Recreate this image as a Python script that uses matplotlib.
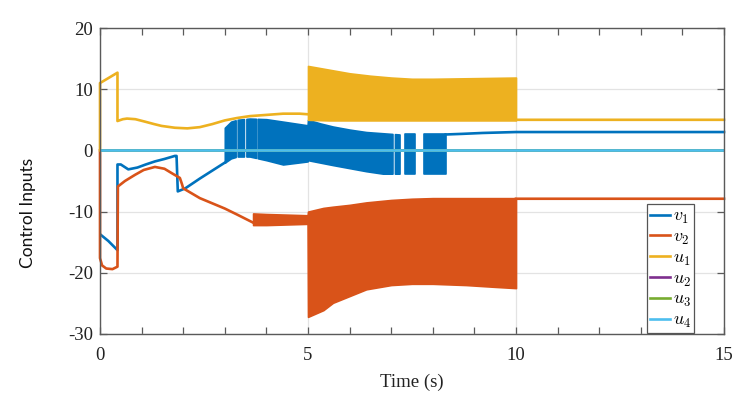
import numpy as np
import matplotlib
matplotlib.use("Agg")
import matplotlib.pyplot as plt

# ---------------- data ----------------
# v1: plain line parts
v1_t = [0.02, 0.2, 0.42, 0.42, 0.5, 0.68, 0.9, 1.1, 1.32, 1.55, 1.8, 1.84, 1.87, 2.05, 2.4, 2.7, 3.0,
        np.nan, 8.31, 8.7, 9.2, 10.0, 12.0, 15.0]
v1_y = [-13.8, -14.8, -16.3, -2.3, -2.3, -3.1, -2.8, -2.3, -1.8, -1.4, -0.9, -0.9, -6.7, -6.2, -4.6, -3.3, -2.0,
        np.nan, 2.6, 2.7, 2.85, 3.0, 3.0, 3.0]
# v1 chattering band (envelope)
v1_band_t = [3.0, 3.15, 3.3, 3.6, 4.0, 4.4, 4.99, 5.0, 5.3, 5.6, 6.0, 6.4, 6.8, 7.2, 7.6, 8.0, 8.31]
v1_band_hi = [3.7, 4.7, 5.0, 5.2, 5.1, 4.7, 4.1, 5.0, 4.4, 3.9, 3.4, 3.0, 2.8, 2.6, 2.6, 2.6, 2.6]
v1_band_lo = [-2.0, -1.3, -1.0, -1.0, -1.6, -2.3, -1.8, -1.6, -2.0, -2.4, -2.9, -3.4, -3.8, -3.8, -3.8, -3.8, -3.8]
v1_band_gaps = [(3.26, 3.31), (3.46, 3.52), (3.75, 3.79), (7.03, 7.09), (7.2, 7.33), (7.57, 7.8)]

# v2
v2_t = [0, 0.0, 0.05, 0.15, 0.3, 0.42, 0.43, 0.6, 0.84, 1.05, 1.32, 1.55, 1.72, 1.92, 1.97, 2.0, 2.4, 3.0, 3.3, 3.68,
        np.nan, 10.0, 12.0, 15.0]
v2_y = [0, -17.6, -18.8, -19.3, -19.4, -19.0, -5.9, -5.0, -4.0, -3.2, -2.7, -3.0, -3.7, -4.5, -5.5, -6.2, -7.8, -9.5, -10.5, -11.8,
        np.nan, -7.9, -7.9, -7.9]
v2_band_t = [3.68, 4.0, 4.5, 4.99, 5.0, 5.37, 5.6, 6.0, 6.4, 7.0, 7.5, 8.0, 8.8, 9.5, 10.0]
v2_band_hi = [-10.3, -10.4, -10.5, -10.6, -10.0, -9.4, -9.2, -8.9, -8.5, -8.1, -7.9, -7.8, -7.8, -7.8, -7.8]
v2_band_lo = [-12.2, -12.2, -12.1, -12.0, -27.2, -26.1, -24.9, -23.8, -22.7, -22.0, -21.8, -21.8, -22.0, -22.3, -22.5]
v2_band_gaps = []

# u1
u1_t = [0, 0.0, 0.42, 0.42, 0.55, 0.65, 0.85, 1.08, 1.3, 1.48, 1.8, 2.1, 2.4, 2.7, 3.0, 3.3, 3.6, 4.0, 4.4, 4.8, 5.0,
        np.nan, 10.0, 12.0, 15.0]
u1_y = [0, 11.0, 12.7, 4.8, 5.1, 5.2, 5.1, 4.7, 4.3, 4.0, 3.7, 3.6, 3.8, 4.3, 4.9, 5.3, 5.6, 5.8, 6.0, 6.0, 5.9,
        np.nan, 5.0, 5.0, 5.0]
u1_band_t = [5.0, 5.5, 6.0, 6.5, 7.0, 7.5, 8.0, 9.0, 10.0]
u1_band_hi = [13.8, 13.2, 12.6, 12.2, 11.9, 11.7, 11.7, 11.8, 11.9]
u1_band_lo = [5.0, 4.9, 4.9, 4.9, 4.9, 4.9, 4.9, 4.9, 4.9]

# u2, u3, u4 (all zero)
u_t = [0, 15]
u2_y = [0, 0]
u3_y = [0, 0]
u4_y = [0, 0]

labels = [r'$v_1$', r'$v_2$', r'$u_1$', r'$u_2$', r'$u_3$', r'$u_4$']
colors = ['#0072BD', '#D95319', '#EDB120', '#7E2F8E', '#77AC30', '#4DBEEE']

x_ticks = [0, 5, 10, 15]
y_ticks = [-30, -20, -10, 0, 10, 20]

# ---------------- plotting ----------------
plt.rcParams['mathtext.fontset'] = 'cm'
plt.rcParams['axes.unicode_minus'] = False
serif = 'Liberation Serif'

fig = plt.figure(figsize=(7.49, 4.03), dpi=100)
ax = fig.add_axes([100/749, 1-334/403, 624/749, 306/403])

lw = 1.9


def draw_band(ax, t, hi, lo, gaps, color, z):
    t = np.asarray(t, float); hi = np.asarray(hi, float); lo = np.asarray(lo, float)
    edges = [t[0]]
    for a, b in gaps:
        edges += [a, b]
    edges.append(t[-1])
    for i in range(0, len(edges), 2):
        s, e = edges[i], edges[i+1]
        inner = t[(t > s) & (t < e)]
        xs = np.concatenate([[s], inner, [e]])
        h = np.interp(xs, t, hi)
        l = np.interp(xs, t, lo)
        ax.fill_between(xs, l, h, facecolor=color, edgecolor=color, linewidth=1.2, zorder=z)


handles = []
z = 2.0
h, = ax.plot(v1_t, v1_y, color=colors[0], lw=lw, zorder=z, label=labels[0], clip_on=False)
draw_band(ax, v1_band_t, v1_band_hi, v1_band_lo, v1_band_gaps, colors[0], z)
handles.append(h)
z = 2.1
h, = ax.plot(v2_t, v2_y, color=colors[1], lw=lw, zorder=z, label=labels[1], clip_on=False)
draw_band(ax, v2_band_t, v2_band_hi, v2_band_lo, v2_band_gaps, colors[1], z)
handles.append(h)
z = 2.2
h, = ax.plot(u1_t, u1_y, color=colors[2], lw=lw, zorder=z, label=labels[2], clip_on=False)
draw_band(ax, u1_band_t, u1_band_hi, u1_band_lo, [], colors[2], z)
handles.append(h)
for y, c, lab, zz in [(u2_y, colors[3], labels[3], 2.3), (u3_y, colors[4], labels[4], 2.4), (u4_y, colors[5], labels[5], 2.5)]:
    h, = ax.plot(u_t, y, color=c, lw=lw, zorder=zz, label=lab)
    handles.append(h)

ax.set_xlim(0, 15)
ax.set_ylim(-30, 20)
ax.set_xticks(x_ticks)
ax.set_yticks(y_ticks)
ax.set_xticks(np.arange(0, 16, 1), minor=True)
ax.grid(True, which='major', color='#e3e3e3', linewidth=0.9, zorder=0)
ax.set_axisbelow(True)

spine_c = '#5a5a5a'
for s in ax.spines.values():
    s.set_color(spine_c)
    s.set_linewidth(1.0)
ax.tick_params(which='both', direction='in', top=True, right=True, color=spine_c, width=0.9)
ax.tick_params(which='major', length=5)
ax.tick_params(which='minor', length=5)
ax.tick_params(axis='x', pad=9)
ax.tick_params(axis='y', pad=5)
for lab in ax.get_xticklabels() + ax.get_yticklabels():
    lab.set_fontfamily(serif)
    lab.set_fontsize(13.5)
    lab.set_color('#222222')

ax.set_xlabel('Time (s)', fontfamily=serif, fontsize=13.5, color='#222222', labelpad=7)
ax.set_ylabel('Control Inputs', fontfamily='Lato', fontsize=12.5, color='#111111')
ax.yaxis.set_label_coords(-0.103, 0.394)

leg = ax.legend(handles=handles, loc='lower right', bbox_to_anchor=(0.952, 0.003), borderaxespad=0,
                fontsize=13, handlelength=1.1, handletextpad=0.2, labelspacing=0.1,
                borderpad=0.15, fancybox=False, framealpha=1, edgecolor='#555555')
leg.get_frame().set_linewidth(0.9)

fig.savefig('out.png', dpi=100)
